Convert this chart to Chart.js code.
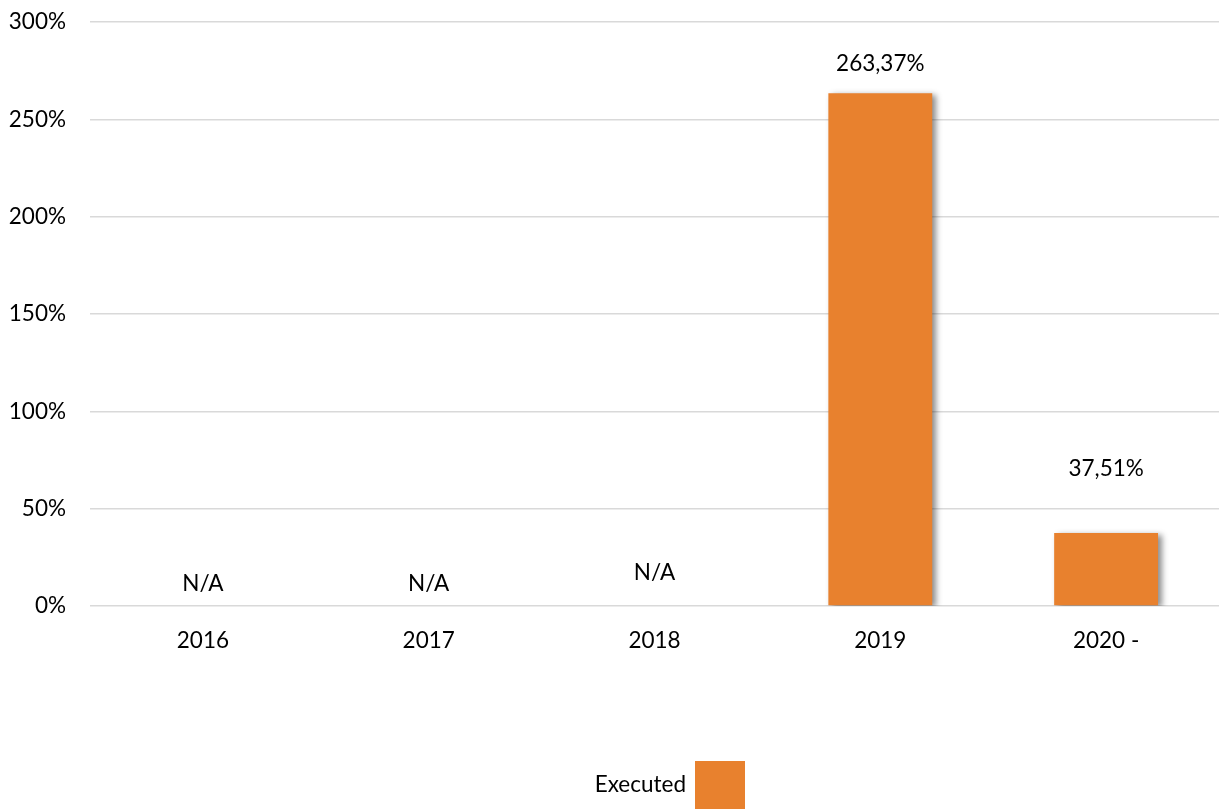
<!DOCTYPE html>
<html>
<head>
<meta charset="utf-8">
<script src="https://cdn.jsdelivr.net/npm/chart.js@4.4.1/dist/chart.umd.min.js"></script>
<style>
  html, body { margin: 0; padding: 0; background: #ffffff; }
  #wrap { width: 1219px; height: 810px; position: relative; }
</style>
</head>
<body>
<div id="wrap"><canvas id="c" width="1219" height="810"></canvas></div>
<script>
// ---- data ----
const categories = ['2016', '2017', '2018', '2019', '2020 -'];
const executedValues = [null, null, null, 263.37, 37.51];
const valueLabels = ['N/A', 'N/A', 'N/A', '263,37%', '37,51%'];
const yTickValues = [0, 50, 100, 150, 200, 250, 300];
const seriesName = 'Executed';

const FONT = 'Lato, "Open Sans", sans-serif';
const FONT_SIZE = 22.5;
const ORANGE = '#E8812E';

// pixel offsets of each value label above its bar top (or above the baseline)
const labelOffsets = [22, 22, 33, 30, 64];

const shadowPlugin = {
  id: 'barShadow',
  beforeDatasetDraw(chart) {
    const ctx = chart.ctx;
    ctx.save();
    ctx.shadowColor = 'rgba(0,0,0,0.45)';
    ctx.shadowBlur = 6;
    ctx.shadowOffsetX = 4;
    ctx.shadowOffsetY = 2;
  },
  afterDatasetDraw(chart) {
    chart.ctx.restore();
  }
};

const labelsPlugin = {
  id: 'valueLabels',
  afterDatasetsDraw(chart) {
    const ctx = chart.ctx;
    const meta = chart.getDatasetMeta(0);
    const yScale = chart.scales.y;
    ctx.save();
    ctx.font = FONT_SIZE + 'px ' + FONT;
    ctx.fillStyle = '#000000';
    ctx.textAlign = 'center';
    ctx.textBaseline = 'middle';
    valueLabels.forEach((txt, i) => {
      const el = meta.data[i];
      const x = el.x;
      const v = executedValues[i];
      const top = (v === null || v === undefined) ? yScale.getPixelForValue(0) : yScale.getPixelForValue(v);
      ctx.fillText(txt, x, top - labelOffsets[i]);
    });
    ctx.restore();
  }
};

const legendPlugin = {
  id: 'customLegend',
  afterDraw(chart) {
    const ctx = chart.ctx;
    ctx.save();
    ctx.fillStyle = ORANGE;
    ctx.fillRect(695, 761, 50, 48);
    ctx.font = FONT_SIZE + 'px ' + FONT;
    ctx.fillStyle = '#000000';
    ctx.textAlign = 'right';
    ctx.textBaseline = 'middle';
    ctx.fillText(seriesName, 686, 785);
    ctx.restore();
  }
};

new Chart(document.getElementById('c'), {
  type: 'bar',
  data: {
    labels: categories,
    datasets: [{
      label: seriesName,
      data: executedValues,
      backgroundColor: ORANGE,
      borderWidth: 0,
      barPercentage: 0.46,
      categoryPercentage: 1.0
    }]
  },
  options: {
    responsive: false,
    animation: false,
    devicePixelRatio: 1,
    layout: { padding: { top: 22, right: 0, bottom: 0, left: 0 } },
    plugins: {
      legend: { display: false },
      tooltip: { enabled: false },
      title: { display: false }
    },
    scales: {
      x: {
        grid: { display: false, drawTicks: false },
        border: { display: false },
        ticks: {
          color: '#000000',
          font: { family: FONT, size: FONT_SIZE },
          padding: 21,
          maxRotation: 0
        },
        afterFit(scale) {
          scale.height = 204;
          scale.paddingLeft = 0; scale.paddingRight = 0;
        }
      },
      y: {
        min: 0,
        max: 300,
        afterBuildTicks(scale) {
          scale.ticks = yTickValues.map(v => ({ value: v }));
        },
        grid: { color: '#d9d9d9', lineWidth: 1.5, drawTicks: false },
        border: { display: false },
        ticks: {
          color: '#000000',
          font: { family: FONT, size: FONT_SIZE },
          padding: 24,
          callback: (v) => v + '%'
        },
        afterFit(scale) {
          scale.width = 90;
          scale.paddingTop = 0; scale.paddingBottom = 0;
        }
      }
    }
  },
  plugins: [shadowPlugin, labelsPlugin, legendPlugin]
});
</script>
</body>
</html>
